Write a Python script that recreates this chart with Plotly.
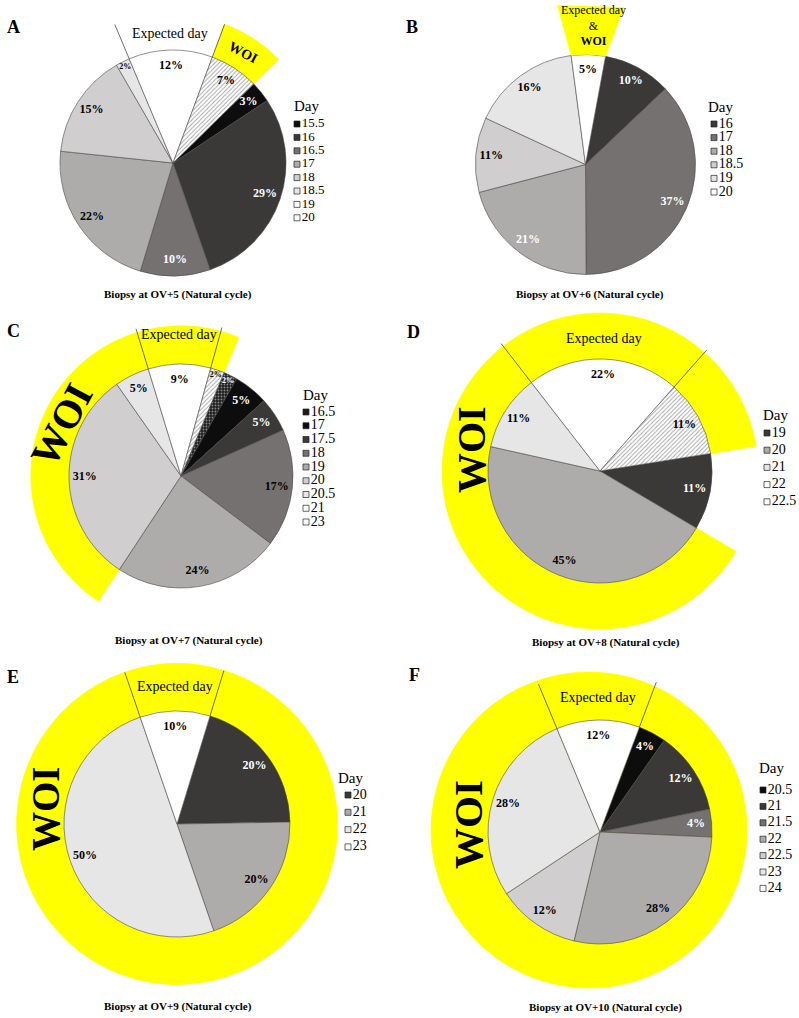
import math
import plotly.graph_objects as go

W, H = 799, 1018
FONT = "Liberation Serif, Times New Roman, serif"

# ---------------- data ----------------
a_days = ["15.5", "16", "16.5", "17", "18", "18.5", "19", "20"]
a_pct = [3, 29, 10, 22, 15, 2, 12, 7]
a_expected = "19"
a_woi = ["20"]

b_days = ["16", "17", "18", "18.5", "19", "20"]
b_pct = [10, 37, 21, 11, 16, 5]
b_expected = "20"
b_woi = ["20"]

c_days = ["16.5", "17", "17.5", "18", "19", "20", "20.5", "21", "23"]
c_pct = [2, 5, 5, 17, 24, 31, 5, 9, 2]
c_expected = "21"
c_woi = ["20", "20.5", "21", "23"]

d_days = ["19", "20", "21", "22", "22.5"]
d_pct = [11, 45, 11, 22, 11]
d_expected = "22"
d_woi = ["20", "21", "22", "22.5"]

e_days = ["20", "21", "22", "23"]
e_pct = [20, 20, 50, 10]
e_expected = "23"
e_woi = ["20", "21", "22", "23"]

f_days = ["20.5", "21", "21.5", "22", "22.5", "23", "24"]
f_pct = [4, 12, 4, 28, 12, 28, 12]
f_expected = "24"
f_woi = ["20.5", "21", "21.5", "22", "22.5", "23", "24"]

letters = ["A", "B", "C", "D", "E", "F"]
captions = ["Biopsy at OV+5 (Natural cycle)", "Biopsy at OV+6 (Natural cycle)",
            "Biopsy at OV+7 (Natural cycle)", "Biopsy at OV+8 (Natural cycle)",
            "Biopsy at OV+9 (Natural cycle)", "Biopsy at OV+10 (Natural cycle)"]
legend_title = "Day"
expected_label = "Expected day"
woi_label = "WOI"

# ---------------- styles ----------------
SHADES = {"k": "#0d0d0d", "d": "#3b3838", "m": "#767171", "g": "#aeabab",
          "l": "#d0cece", "ll": "#e7e6e6", "w": "#ffffff", "hw": "#ffffff",
          "dk": "#1c1c1c"}
PATTERN = {"hw": ("/", "#b4b4b4"), "dk": (".", "#8a8a8a")}
INK = {"w": "#ffffff", "k": "#000000"}
YELLOW = "#ffff00"
EDGE = "#4a4a4a"

panels = [
    dict(days=a_days, pct=a_pct, expected=a_expected, woi=a_woi,
         shades=["k", "d", "m", "g", "l", "ll", "w", "hw"],
         ink=["w", "w", "w", "k", "k", "k", "k", "k"],
         cx=173, cy=163, rp=113, start=45.6, rmax=1.44,
         ring=1.31, line_out=[1.33, 1.31], exp_r=1.15, exp_size=14,
         woi_xy=(243, 52), woi_angle=28, woi_size=14,
         leg_x=297, leg_y0=124, leg_dy=13.4, leg_size=13, day_xy=(306, 106),
         letter_xy=(13, 27), cap_xy=(178, 294)),
    dict(days=b_days, pct=b_pct, expected=b_expected, woi=b_woi,
         shades=["d", "m", "g", "l", "ll", "w"],
         ink=["w", "w", "w", "k", "k", "k"],
         cx=585.5, cy=164.5, rp=110, start=10.5, rmax=1.49,
         ring=None, trap=(1.47, -2.5, 3.3), line_out=None,
         leg_x=714, leg_y0=124, leg_dy=13.6, leg_size=14, day_xy=(720, 107),
         letter_xy=(412, 27), cap_xy=(590, 294)),
    dict(days=c_days, pct=c_pct, expected=c_expected, woi=c_woi,
         shades=["dk", "k", "d", "m", "g", "l", "ll", "w", "hw"],
         ink=["w", "w", "w", "k", "k", "k", "k", "k", "k"],
         cx=181, cy=476, rp=112, start=22.6, rmax=1.42,
         ring=1.34, line_out=[1.375, 1.375], exp_r=1.26, exp_size=14,
         woi_xy=(61, 425), woi_angle=-62, woi_size=40,
         leg_x=306, leg_y0=412, leg_dy=13.75, leg_size=14, day_xy=(315, 395),
         letter_xy=(13, 331), cap_xy=(189, 640)),
    dict(days=d_days, pct=d_pct, expected=d_expected, woi=d_woi,
         shades=["d", "g", "ll", "w", "hw"],
         ink=["w", "k", "k", "k", "k"],
         cx=600, cy=471, rp=112, start=81, rmax=1.46,
         ring=1.41, line_out=[1.44, 1.44], exp_r=1.18, exp_size=14,
         woi_xy=(472, 450), woi_angle=-90, woi_size=40,
         leg_x=767, leg_y0=433, leg_dy=17.2, leg_size=14, day_xy=(775, 415),
         letter_xy=(413, 332), cap_xy=(606, 642)),
    dict(days=e_days, pct=e_pct, expected=e_expected, woi=e_woi,
         shades=["d", "g", "ll", "w"],
         ink=["w", "k", "k", "k"],
         cx=177, cy=824, rp=113, start=17, rmax=1.45,
         ring=1.42, line_out=[1.42, 1.42], exp_r=1.22, exp_size=14,
         woi_xy=(45, 809), woi_angle=-90, woi_size=39,
         leg_x=348, leg_y0=795, leg_dy=17.3, leg_size=14, day_xy=(350, 778),
         letter_xy=(13, 677), cap_xy=(178, 1006)),
    dict(days=f_days, pct=f_pct, expected=f_expected, woi=f_woi,
         shades=["k", "d", "m", "g", "l", "ll", "w"],
         ink=["w", "w", "w", "k", "k", "k", "k"],
         cx=600, cy=832, rp=112, start=20.6, rmax=1.45,
         ring=1.41, ring_center=(589, 830), line_out=[1.43, 1.43],
         exp_r=1.2, exp_size=14,
         woi_xy=(468, 825), woi_angle=-90, woi_size=41,
         leg_x=763, leg_y0=790, leg_dy=16.4, leg_size=14, day_xy=(771, 768),
         letter_xy=(414, 675), cap_xy=(605, 1007)),
]


def domain(cx, cy, R):
    return dict(x=[(cx - R) / W, (cx + R) / W], y=[(H - cy - R) / H, (H - cy + R) / H])


def polar_layout(cx, cy, rp, rmax):
    return dict(domain=domain(cx, cy, rp * rmax), bgcolor="rgba(0,0,0,0)", barmode="overlay",
                radialaxis=dict(range=[0, rmax], visible=False),
                angularaxis=dict(visible=False, rotation=90, direction="clockwise"))


def to_px(p, r, th):
    t = math.radians(th)
    return p["cx"] + r * p["rp"] * math.sin(t), p["cy"] - r * p["rp"] * math.cos(t)


fig = go.Figure()
layout_extra = {}
annotations = []

# separate ring subplot for panel F (offset ring) -> id "polar" (drawn first)
pf = panels[5]
rcx, rcy = pf["ring_center"]
layout_extra["polar"] = polar_layout(rcx, rcy, pf["rp"], pf["rmax"])

for i, p in enumerate(panels):
    pid = "polar%d" % (i + 2)
    layout_extra[pid] = polar_layout(p["cx"], p["cy"], p["rp"], p["rmax"])

    # slice geometry from data
    bounds, acc = [], p["start"]
    for v in p["pct"]:
        bounds.append((acc, acc + v * 3.6))
        acc += v * 3.6
    mids = [(a + b) / 2 for a, b in bounds]
    spans = [b - a for a, b in bounds]
    idx = {d: k for k, d in enumerate(p["days"])}

    # WOI ring
    wk = [idx[d] for d in p["woi"]]
    if p.get("ring") is not None:
        if "ring_center" in p:
            fig.add_trace(go.Barpolar(
                r=[p["ring"]] * len(wk), base=[0] * len(wk),
                theta=[mids[k] for k in wk], width=[spans[k] for k in wk],
                marker=dict(color=YELLOW, line=dict(color=YELLOW, width=0.8)),
                subplot="polar", hoverinfo="skip", showlegend=False))
        else:
            fig.add_trace(go.Barpolar(
                r=[p["ring"] - 1] * len(wk), base=[1] * len(wk),
                theta=[mids[k] for k in wk], width=[spans[k] for k in wk],
                marker=dict(color=YELLOW, line=dict(color=YELLOW, width=0.8)),
                subplot=pid, hoverinfo="skip", showlegend=False))

    # pie slices
    shapes_ = [PATTERN.get(s, ("", "#000"))[0] for s in p["shades"]]
    fgs = [PATTERN.get(s, ("", "#000000"))[1] for s in p["shades"]]
    fig.add_trace(go.Barpolar(
        r=[1] * len(p["pct"]), base=[0] * len(p["pct"]), theta=mids, width=spans,
        marker=dict(color=[SHADES[s] for s in p["shades"]],
                    line=dict(color=EDGE, width=0.6),
                    pattern=dict(shape=shapes_, fgcolor=fgs, size=3, solidity=0.3)),
        subplot=pid, hoverinfo="skip", showlegend=False))

    e = idx[p["expected"]]
    ea, eb = bounds[e]

    # B: trapezoid callout
    if "trap" in p:
        ro, fl, fr = p["trap"]
        n = 12
        th_arc = [ea + (eb - ea) * j / n for j in range(n + 1)]
        fig.add_trace(go.Scatterpolar(
            r=[1.0] * (n + 1) + [ro, ro, 1.0],
            theta=th_arc + [eb + fr, ea + fl, ea],
            mode="lines", fill="toself", fillcolor=YELLOW,
            line=dict(color=YELLOW, width=0.5),
            subplot=pid, hoverinfo="skip", showlegend=False))
        tx, ty = to_px(p, 1.0, (ea + eb) / 2)
        annotations.append(dict(x=(tx + 5) / W, y=1 - 25 / H, xref="paper", yref="paper",
                                text=expected_label + "<br>&<br><b>" + woi_label + "</b>",
                                showarrow=False, xanchor="center", yanchor="middle",
                                font=dict(family=FONT, size=12, color="#000")))

    # expected-day boundary lines
    if p.get("line_out"):
        lo1, lo2 = p["line_out"]
        fig.add_trace(go.Scatterpolar(
            r=[1, lo1, None, 1, lo2], theta=[ea, ea, None, eb, eb],
            mode="lines", line=dict(color=EDGE, width=0.8),
            subplot=pid, hoverinfo="skip", showlegend=False))
        ex, ey = to_px(p, p["exp_r"], (ea + eb) / 2)
        annotations.append(dict(x=ex / W, y=1 - ey / H, xref="paper", yref="paper",
                                text=expected_label, showarrow=False,
                                xanchor="center", yanchor="middle",
                                font=dict(family=FONT, size=p["exp_size"], color="#000")))
        wx, wy = p["woi_xy"]
        annotations.append(dict(x=wx / W, y=1 - wy / H, xref="paper", yref="paper",
                                text="<b>" + woi_label + "</b>", showarrow=False,
                                textangle=p["woi_angle"], xanchor="center", yanchor="middle",
                                font=dict(family=FONT, size=p["woi_size"], color="#000")))

    # percentage labels
    lr = [0.95 if v <= 2 else 0.86 for v in p["pct"]]
    ls = [8 if v <= 2 else 12 for v in p["pct"]]
    fig.add_trace(go.Scatterpolar(
        r=lr, theta=mids, mode="text",
        text=["<b>%d%%</b>" % v for v in p["pct"]],
        textfont=dict(family=FONT, size=ls, color=[INK[c] for c in p["ink"]]),
        subplot=pid, hoverinfo="skip", showlegend=False))

    # legend (drawn on pixel-unit overlay axes)
    n = len(p["days"])
    fig.add_trace(go.Scatter(
        x=[p["leg_x"]] * n, y=[p["leg_y0"] + k * p["leg_dy"] for k in range(n)],
        mode="markers+text", text=p["days"], textposition="middle right",
        textfont=dict(family=FONT, size=p["leg_size"], color="#000"),
        marker=dict(symbol="square", size=6, color=[SHADES[s] for s in p["shades"]],
                    line=dict(color="#222", width=0.7)),
        xaxis="x", yaxis="y", hoverinfo="skip", showlegend=False, cliponaxis=False))
    dx_, dy_ = p["day_xy"]
    annotations.append(dict(x=dx_ / W, y=1 - dy_ / H, xref="paper", yref="paper",
                            text=legend_title, showarrow=False, xanchor="center", yanchor="middle",
                            font=dict(family=FONT, size=15, color="#000")))
    lx, ly = p["letter_xy"]
    annotations.append(dict(x=lx / W, y=1 - ly / H, xref="paper", yref="paper",
                            text="<b>" + letters[i] + "</b>", showarrow=False,
                            xanchor="center", yanchor="middle",
                            font=dict(family=FONT, size=18, color="#000")))
    cxp, cyp = p["cap_xy"]
    annotations.append(dict(x=cxp / W, y=1 - cyp / H, xref="paper", yref="paper",
                            text="<b>" + captions[i] + "</b>", showarrow=False,
                            xanchor="center", yanchor="middle",
                            font=dict(family=FONT, size=11, color="#000")))

fig.update_layout(
    width=W, height=H, margin=dict(l=0, r=0, t=0, b=0),
    paper_bgcolor="#ffffff", plot_bgcolor="rgba(0,0,0,0)", showlegend=False,
    xaxis=dict(domain=[0, 1], range=[0, W], visible=False, fixedrange=True),
    yaxis=dict(domain=[0, 1], range=[H, 0], visible=False, fixedrange=True),
    annotations=annotations, **layout_extra)

fig.write_html("out.html", config={"displayModeBar": False},
               post_script="document.body.style.margin='0';")
